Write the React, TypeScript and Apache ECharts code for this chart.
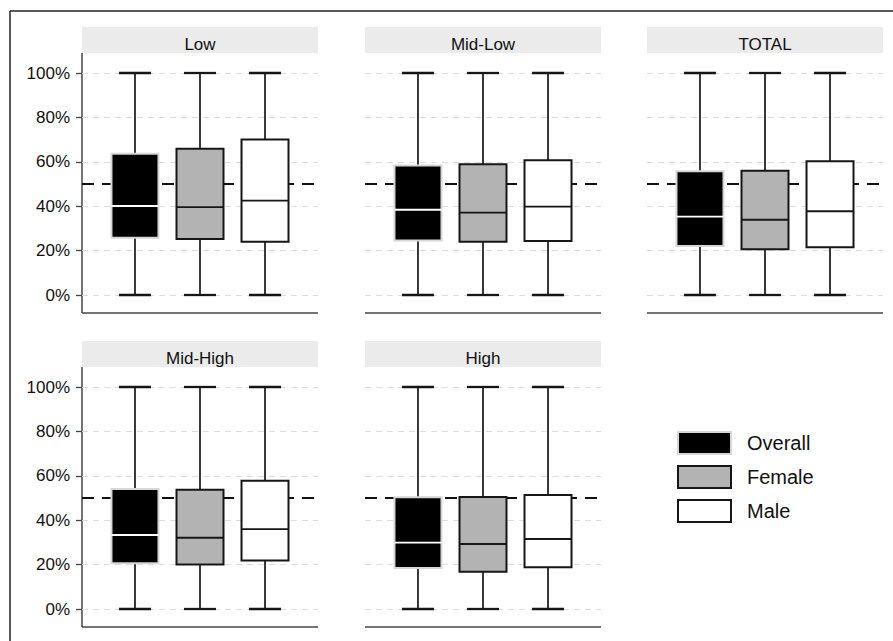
import React, { useEffect, useRef } from 'react';
import * as echarts from 'echarts';

const PANELS = ['Low', 'Mid-Low', 'TOTAL', 'Mid-High', 'High'];
const GROUPS = ['Overall', 'Female', 'Male'];
const Y_TICKS = [0, 0.2, 0.4, 0.6, 0.8, 1];
const REF_LEVEL = [0.5, 0.5];
// each row: [min, Q1, median, Q3, max] for Overall, Female, Male
const LOW = [
  [0, 0.258, 0.401, 0.636, 1],
  [0, 0.252, 0.396, 0.659, 1],
  [0, 0.240, 0.425, 0.701, 1],
];
const MID_LOW = [
  [0, 0.246, 0.384, 0.583, 1],
  [0, 0.240, 0.371, 0.589, 1],
  [0, 0.243, 0.398, 0.607, 1],
];
const TOTAL = [
  [0, 0.221, 0.353, 0.557, 1],
  [0, 0.206, 0.339, 0.560, 1],
  [0, 0.215, 0.377, 0.602, 1],
];
const MID_HIGH = [
  [0, 0.206, 0.333, 0.541, 1],
  [0, 0.201, 0.321, 0.537, 1],
  [0, 0.218, 0.360, 0.578, 1],
];
const HIGH = [
  [0, 0.185, 0.299, 0.503, 1],
  [0, 0.168, 0.293, 0.505, 1],
  [0, 0.188, 0.315, 0.514, 1],
];
const PANEL_DATA = [LOW, MID_LOW, TOTAL, MID_HIGH, HIGH];

// layout
const COL_X = [82, 365, 647];
const ROW_TOP = [73, 387];
const PANEL_W = 236;
const PLOT_H = 222;
const PANEL_POS = [[0, 0], [1, 0], [2, 0], [0, 1], [1, 1]];
const X_MIN = 0.185;
const X_MAX = 3.815;
const FILL = ['#000000', '#b3b3b3', '#ffffff'];
const BORDER = ['#d6d6d6', '#161616', '#161616'];
const MEDIAN = ['#ffffff', '#161616', '#161616'];
const SANS = "'Liberation Sans', Arial, Helvetica, sans-serif";

export default function App() {
  const ref = useRef<HTMLDivElement>(null);
  useEffect(() => {
    document.body.style.margin = '0';
    if (!ref.current) return;
    const chart = echarts.init(ref.current, null, { renderer: 'svg' });

    const grids: any[] = [];
    const xAxes: any[] = [];
    const yAxes: any[] = [];
    const series: any[] = [];
    const graphics: any[] = [];

    // outer frame (top and left)
    graphics.push({ type: 'line', shape: { x1: 10, y1: 11, x2: 893, y2: 11 }, style: { stroke: '#222', lineWidth: 1.5 } });
    graphics.push({ type: 'line', shape: { x1: 10, y1: 11, x2: 10, y2: 641 }, style: { stroke: '#222', lineWidth: 1.5 } });

    PANELS.forEach((name, p) => {
      const [c, r] = PANEL_POS[p];
      const left = COL_X[c];
      const top = ROW_TOP[r];
      const showY = c === 0;
      grids.push({ left, top, width: PANEL_W, height: PLOT_H, containLabel: false });
      xAxes.push({ type: 'value', gridIndex: p, min: X_MIN, max: X_MAX, show: false });
      yAxes.push({
        type: 'value', gridIndex: p, min: 0, max: 1, interval: 0.2,
        axisLine: { show: false },
        axisTick: { show: showY, length: 6, lineStyle: { color: '#444', width: 1.3 } },
        axisLabel: {
          show: showY, margin: 12, color: '#111', fontSize: 17, fontFamily: SANS,
          formatter: (v: number) => (Y_TICKS.some((t) => Math.abs(t - v) < 1e-6) ? Math.round(v * 100) + '%' : ''),
        },
        splitLine: { show: true, lineStyle: { color: '#dcdcdc', width: 1.2, type: [6, 5] } },
      });

      // strip header
      const stripTop = top - 46;
      graphics.push({ type: 'rect', shape: { x: left, y: stripTop, width: PANEL_W, height: 26 }, style: { fill: '#ebebeb' }, z: 0 });
      graphics.push({
        type: 'text', x: left + PANEL_W / 2, y: stripTop + 17.5,
        style: { text: name, fill: '#111', font: `17px ${SANS}`, align: 'center', verticalAlign: 'middle' },
        z: 1,
      });
      // axis lines
      const axisY = top + PLOT_H + 18;
      graphics.push({ type: 'line', shape: { x1: left, y1: axisY, x2: left + PANEL_W, y2: axisY }, style: { stroke: '#444', lineWidth: 1.5 } });
      if (showY) {
        graphics.push({ type: 'line', shape: { x1: left, y1: stripTop + 26, x2: left, y2: axisY }, style: { stroke: '#444', lineWidth: 1.5 } });
      }

      // 50% reference line
      series.push({
        type: 'line', xAxisIndex: p, yAxisIndex: p, silent: true, symbol: 'none', z: 1,
        data: [[X_MIN, REF_LEVEL[0]], [X_MAX, REF_LEVEL[1]]],
        lineStyle: { color: '#111', width: 1.8, type: [12, 8] },
      });

      PANEL_DATA[p].forEach((stats, g) => {
        series.push({
          type: 'custom', name: GROUPS[g], xAxisIndex: p, yAxisIndex: p, z: 3, clip: false,
          itemStyle: { color: FILL[g] },
          data: [[g + 1, ...stats]],
          renderItem: (params: any, api: any) => {
            const x = api.value(0);
            const cx = api.coord([x, api.value(1)])[0];
            const yMin = api.coord([x, api.value(1)])[1];
            const yQ1 = api.coord([x, api.value(2)])[1];
            const yMed = api.coord([x, api.value(3)])[1];
            const yQ3 = api.coord([x, api.value(4)])[1];
            const yMax = api.coord([x, api.value(5)])[1];
            const bw = 47;
            const cw = 32;
            const ink = '#161616';
            return {
              type: 'group',
              children: [
                { type: 'line', shape: { x1: cx, y1: yMax, x2: cx, y2: yMin }, style: { stroke: ink, lineWidth: 1.7 } },
                { type: 'line', shape: { x1: cx - cw / 2, y1: yMax, x2: cx + cw / 2, y2: yMax }, style: { stroke: ink, lineWidth: 2.3 } },
                { type: 'line', shape: { x1: cx - cw / 2, y1: yMin, x2: cx + cw / 2, y2: yMin }, style: { stroke: ink, lineWidth: 2.3 } },
                { type: 'rect', shape: { x: cx - bw / 2, y: yQ3, width: bw, height: yQ1 - yQ3 }, style: { fill: FILL[g], stroke: BORDER[g], lineWidth: 2 } },
                { type: 'line', shape: { x1: cx - bw / 2, y1: yMed, x2: cx + bw / 2, y2: yMed }, style: { stroke: MEDIAN[g], lineWidth: 1.9 } },
              ],
            };
          },
        });
      });
    });

    chart.setOption({
      animation: false,
      backgroundColor: '#ffffff',
      grid: grids,
      xAxis: xAxes,
      yAxis: yAxes,
      legend: {
        orient: 'vertical', left: 677, top: 431, padding: 0, itemWidth: 53, itemHeight: 22, itemGap: 10,
        icon: 'rect', selectedMode: false,
        textStyle: { fontSize: 20, fontFamily: SANS, color: '#111', padding: [0, 0, 0, 11] },
        data: GROUPS.map((g, i) => ({
          name: g,
          icon: 'rect',
          itemStyle: { color: FILL[i], borderColor: BORDER[i], borderWidth: 2 },
        })),
      },
      graphic: graphics,
      series,
    });
    return () => chart.dispose();
  }, []);
  return <div ref={ref} style={{ width: 893, height: 641 }} />;
}
